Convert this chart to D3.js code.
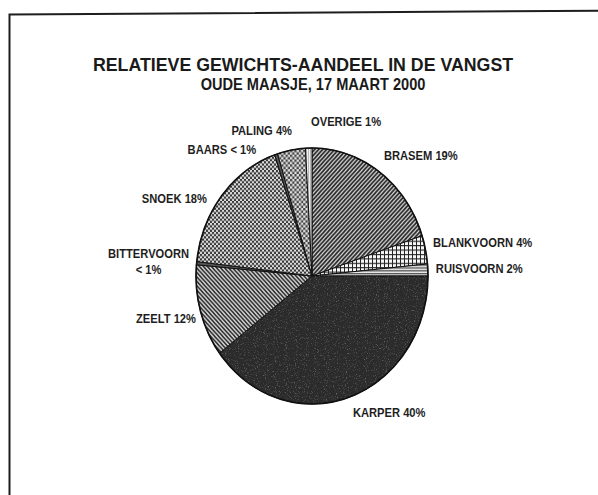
<!DOCTYPE html>
<html><head><meta charset="utf-8">
<script src="https://cdn.jsdelivr.net/npm/d3@7"></script>
<style>html,body{margin:0;padding:0;background:#fff;}svg{display:block;}</style>
</head><body>
<script>
// ---- data ----
const categories = ["BRASEM","BLANKVOORN","RUISVOORN","KARPER","ZEELT","BITTERVOORN","SNOEK","BAARS","PALING","OVERIGE"];
const shares = [19.9, 3.6, 1.5, 39.7, 11.7, 0.4, 18.0, 0.4, 3.9, 0.9];
const shareLabels = ["19%","4%","2%","40%","12%","< 1%","18%","< 1%","4%","1%"];
const title = "RELATIEVE GEWICHTS-AANDEEL IN DE VANGST";
const subtitle = "OUDE MAASJE, 17 MAART 2000";

// ---- layout / style (not data) ----
const W = 598, H = 495;
const cx = 312, cy = 276, rx = 116, ry = 128;
const fills = ["url(#pBrasem)","url(#pGrid)","url(#pHlines)","#2b2b2b","url(#pZeelt)","#555","url(#pCheck)","#555","url(#pCheck2)","url(#pVlines)"];
// label nudges relative to the slice's rim point
const labelLayout = {
  BRASEM:{dx:4,dy:-12,anchor:"start"},
  BLANKVOORN:{dx:7.5,dy:-2.6,anchor:"start"},
  RUISVOORN:{dx:8,dy:3,anchor:"start"},
  KARPER:{dx:4,dy:19.6,anchor:"start"},
  ZEELT:{dx:-4.5,dy:11.7,anchor:"end"},
  BITTERVOORN:{dx:-48,dy:-5,anchor:"middle",split:true},
  SNOEK:{dx:-14.7,dy:7.3,anchor:"end"},
  BAARS:{dx:-20,dy:0,anchor:"end"},
  PALING:{dx:0.7,dy:-15,anchor:"end"},
  OVERIGE:{dx:2.3,dy:-22,anchor:"start"}
};

const svg = d3.select("body").append("svg").attr("width",W).attr("height",H);
const defs = svg.append("defs");

function pat(id,w,h,build){
  const p = defs.append("pattern").attr("id",id).attr("patternUnits","userSpaceOnUse").attr("width",w).attr("height",h);
  build(p); return p;
}
pat("pBrasem",4,4,p=>{
  p.append("rect").attr("width",4).attr("height",4).attr("fill","#d6d6d6");
  p.append("path").attr("d","M-1,1 L1,-1 M0,4 L4,0 M3,5 L5,3").attr("stroke","#2a2a2a").attr("stroke-width",1.6);
});
pat("pZeelt",4,4,p=>{
  p.append("rect").attr("width",4).attr("height",4).attr("fill","#d8d8d8");
  p.append("path").attr("d","M-1,3 L1,5 M0,0 L4,4 M3,-1 L5,1").attr("stroke","#2a2a2a").attr("stroke-width",1.5);
});
pat("pCheck",4,4,p=>{
  p.append("rect").attr("width",4).attr("height",4).attr("fill","#dcdcdc");
  p.append("rect").attr("width",2).attr("height",2).attr("fill","#383838");
  p.append("rect").attr("x",2).attr("y",2).attr("width",2).attr("height",2).attr("fill","#383838");
});
pat("pCheck2",4.4,4.4,p=>{
  p.append("rect").attr("width",4.4).attr("height",4.4).attr("fill","#e2e2e2");
  p.append("rect").attr("width",2.2).attr("height",2.2).attr("fill","#444");
  p.append("rect").attr("x",2.2).attr("y",2.2).attr("width",2.2).attr("height",2.2).attr("fill","#444");
});
pat("pGrid",4,4,p=>{
  p.append("rect").attr("width",4).attr("height",4).attr("fill","#f6f6f6");
  p.append("path").attr("d","M0,0.5 H4 M0.5,0 V4").attr("stroke","#222").attr("stroke-width",1);
});
pat("pHlines",3,2.6,p=>{
  p.append("rect").attr("width",3).attr("height",2.6).attr("fill","#eeeeee");
  p.append("path").attr("d","M0,0.6 H3").attr("stroke","#333").attr("stroke-width",1);
});
pat("pVlines",2,2,p=>{
  p.append("rect").attr("width",2).attr("height",2).attr("fill","#f0f0f0");
  p.append("path").attr("d","M0.5,0 V2").attr("stroke","#aaa").attr("stroke-width",0.8);
});
const f = defs.append("filter").attr("id","speckle").attr("x",0).attr("y",0).attr("width",1).attr("height",1);
f.append("feTurbulence").attr("type","fractalNoise").attr("baseFrequency",0.9).attr("numOctaves",2).attr("seed",4).attr("result","n");
f.append("feColorMatrix").attr("in","n").attr("type","matrix")
 .attr("values","0 0 0 0 0.6  0 0 0 0 0.6  0 0 0 0 0.6  3.2 0 0 0 -1.8").attr("result","s");
f.append("feComposite").attr("in","s").attr("in2","SourceGraphic").attr("operator","in");

// frame (scan border)
svg.append("path").attr("d",`M9.5,${H} L9.5,14.5 L${W},10.7`).attr("fill","none").attr("stroke","#1e1e1e").attr("stroke-width",2);

// titles
svg.append("text").text(title)
  .attr("transform","translate(303,71) scale(0.96,1)")
  .attr("text-anchor","middle").attr("font-family","Liberation Sans, Arial, sans-serif")
  .attr("font-weight","bold").attr("font-size",18.5).attr("fill","#1a1a1a");
svg.append("text").text(subtitle)
  .attr("transform","translate(313,90) scale(0.885,1)")
  .attr("text-anchor","middle").attr("font-family","Liberation Sans, Arial, sans-serif")
  .attr("font-weight","bold").attr("font-size",16.5).attr("fill","#1a1a1a");

// pie
const pie = d3.pie().sort(null).value(d=>d).startAngle(0).endAngle(2*Math.PI);
const arcs = pie(shares);
const arc = d3.arc().innerRadius(0).outerRadius(rx);
const g = svg.append("g").attr("transform",`translate(${cx},${cy}) scale(1,${ry/rx})`);
g.selectAll("path.slice").data(arcs).join("path").attr("class","slice")
  .attr("d",arc).attr("fill",(d,i)=>fills[i])
  .attr("stroke","#111").attr("stroke-width",1).attr("vector-effect","non-scaling-stroke");
// speckle on the dark slice
g.selectAll("path.speck").data(arcs.filter((d,i)=>categories[i]==="KARPER")).join("path").attr("class","speck")
  .attr("d",arc).attr("fill","#000").attr("filter","url(#speckle)").attr("opacity",0.4);
g.append("ellipse").attr("rx",rx).attr("ry",rx).attr("fill","none")
  .attr("stroke","#111").attr("stroke-width",1.6).attr("vector-effect","non-scaling-stroke");

// labels
arcs.forEach((d,i)=>{
  const name = categories[i];
  const L = labelLayout[name];
  const a = (d.startAngle + d.endAngle)/2;
  const x = cx + rx*Math.sin(a) + L.dx;
  const y = cy - ry*Math.cos(a) + L.dy;
  const lines = L.split ? [name, shareLabels[i]] : [name + " " + shareLabels[i]];
  lines.forEach((t,k)=>{
    svg.append("text").text(t)
      .attr("transform",`translate(${x},${y + k*16}) scale(0.86,1)`)
      .attr("text-anchor",L.anchor)
      .attr("font-family","Liberation Sans, Arial, sans-serif")
      .attr("font-weight","bold").attr("font-size",13).attr("fill","#1e1e1e");
  });
});
</script>
</body></html>
